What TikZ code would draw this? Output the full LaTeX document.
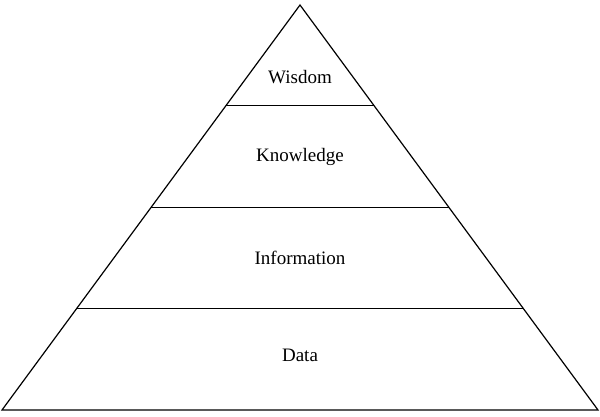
\documentclass[tikz,border=0pt]{standalone}
\usepackage{fontspec}
\setmainfont{Liberation Serif}
\begin{document}
\begin{tikzpicture}[x=1pt,y=-1pt,lbl/.style={font=\fontsize{19}{22}\selectfont,inner sep=0pt}]
\useasboundingbox (0,0) rectangle (600,417);
\coordinate (apex) at (300,5);
\coordinate (bl) at (2,410);
\coordinate (br) at (598,410);
\draw[line width=1.2pt,line join=miter] (apex) -- (br) -- (bl) -- cycle;
\foreach \y/\n in {106/a,207/b,308/c}{
  \pgfmathsetmacro{\hw}{0.7358*(\y-5)}
  \coordinate (\n l) at (300-\hw,\y);
  \coordinate (\n r) at (300+\hw,\y);
  \draw[line width=1pt] (\n l) -- (\n r);
}
\node[lbl] (w) at (300,77) {Wisdom};
\node[lbl] (k) at (300,157) {Knowledge};
\node[lbl] (i) at (300,258) {Information};
\node[lbl] (d) at (300,355) {Data};
\end{tikzpicture}
\end{document}
